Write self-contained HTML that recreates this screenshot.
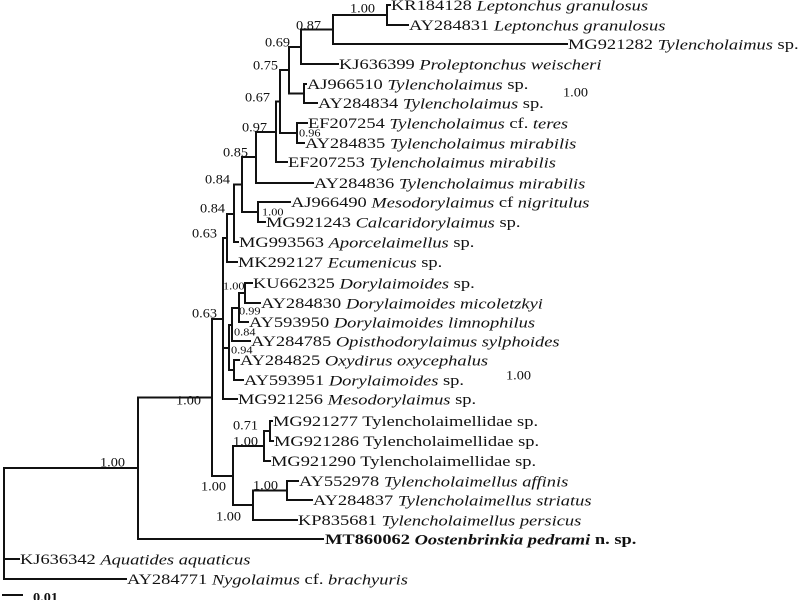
<!DOCTYPE html>
<html><head><meta charset="utf-8"><style>
html,body{margin:0;padding:0;background:#fff;}
svg{display:block;}
text{font-family:"Liberation Serif",serif;fill:#111;transform-box:fill-box;transform-origin:0 50%;}
.l text{font-size:15px;dominant-baseline:central;transform:scaleX(1.23);}
.s text{font-size:13px;dominant-baseline:central;transform:scaleX(1.1);}
.t text{font-size:11px;dominant-baseline:central;transform:scaleX(1.12);}
</style></head><body>
<svg width="800" height="600" viewBox="0 0 800 600" xmlns="http://www.w3.org/2000/svg">
<g stroke="#111" stroke-width="2" fill="none" stroke-linecap="square">
<path d="M387 5V25M387 5H390M387 25H408M333 15H387
M333 15V44M333 44H567M301 29.5H333
M301 29.5V64M301 64H338M289 47H301
M304 84V103M304 84H306M304 103H317M289 93.5H304
M289 47V93.5M280 70H289
M297 123V143M297 123H307M297 143H304M280 133H297
M280 70V133M276 101.5H280
M276 101.5V162M276 162H287M256 132H276
M256 132V183M256 183H313M242 157H256
M258 202V222M258 202H290M258 222H265M242 212H258
M242 157V212M234 184.5H242
M234 184.5V242M234 242H238M227 214H234
M227 214V262M227 262H237M223 238H227
M245 283V303M245 283H252M245 303H260M239 293H245
M239 293V322M239 322H248M232 308H239
M232 308V341M232 341H250M229 325H232
M234 360V380M234 360H239M234 380H243M229 370H234
M229 325V370M223 348H229
M223 238V399M223 399H237M212 319H223
M270 421V441M270 421H272M270 441H273M264 431H270
M264 431V461M264 461H270M233 446H264
M287 481V500M287 481H298M287 500H312M253 490.5H287
M253 490.5V520M253 520H297M233 505H253
M233 446V505M212 476H233
M212 319V476M138 397.5H212
M138 397.5V539M138 539H323M4 468H138
M4 468V579M4 559H19M4 579H126
M3 595H22"/>
</g>
<g class="l">
<text x="391" y="5">KR184128 <tspan font-style="italic">Leptonchus granulosus</tspan></text>
<text x="409" y="25">AY284831 <tspan font-style="italic">Leptonchus granulosus</tspan></text>
<text x="568" y="44">MG921282 <tspan font-style="italic">Tylencholaimus</tspan> sp.</text>
<text x="339" y="64">KJ636399 <tspan font-style="italic">Proleptonchus weischeri</tspan></text>
<text x="307" y="84">AJ966510 <tspan font-style="italic">Tylencholaimus</tspan> sp.</text>
<text x="318" y="103">AY284834 <tspan font-style="italic">Tylencholaimus</tspan> sp.</text>
<text x="308" y="123">EF207254 <tspan font-style="italic">Tylencholaimus</tspan> cf. <tspan font-style="italic">teres</tspan></text>
<text x="305" y="143">AY284835 <tspan font-style="italic">Tylencholaimus mirabilis</tspan></text>
<text x="288" y="162">EF207253 <tspan font-style="italic">Tylencholaimus mirabilis</tspan></text>
<text x="314" y="183">AY284836 <tspan font-style="italic">Tylencholaimus mirabilis</tspan></text>
<text x="291" y="202">AJ966490 <tspan font-style="italic">Mesodorylaimus</tspan> cf <tspan font-style="italic">nigritulus</tspan></text>
<text x="266" y="222">MG921243 <tspan font-style="italic">Calcaridorylaimus</tspan> sp.</text>
<text x="239" y="242">MG993563 <tspan font-style="italic">Aporcelaimellus</tspan> sp.</text>
<text x="238" y="262">MK292127 <tspan font-style="italic">Ecumenicus</tspan> sp.</text>
<text x="253" y="283">KU662325 <tspan font-style="italic">Dorylaimoides</tspan> sp.</text>
<text x="261" y="303">AY284830 <tspan font-style="italic">Dorylaimoides micoletzkyi</tspan></text>
<text x="249" y="322">AY593950 <tspan font-style="italic">Dorylaimoides limnophilus</tspan></text>
<text x="251" y="341">AY284785 <tspan font-style="italic">Opisthodorylaimus sylphoides</tspan></text>
<text x="240" y="360">AY284825 <tspan font-style="italic">Oxydirus oxycephalus</tspan></text>
<text x="244" y="380">AY593951 <tspan font-style="italic">Dorylaimoides</tspan> sp.</text>
<text x="238" y="399">MG921256 <tspan font-style="italic">Mesodorylaimus</tspan> sp.</text>
<text x="273" y="421">MG921277 Tylencholaimellidae sp.</text>
<text x="274" y="441">MG921286 Tylencholaimellidae sp.</text>
<text x="271" y="461">MG921290 Tylencholaimellidae sp.</text>
<text x="299" y="481">AY552978 <tspan font-style="italic">Tylencholaimellus affinis</tspan></text>
<text x="313" y="500">AY284837 <tspan font-style="italic">Tylencholaimellus striatus</tspan></text>
<text x="298" y="520">KP835681 <tspan font-style="italic">Tylencholaimellus persicus</tspan></text>
<text x="325" y="539" font-weight="bold">MT860062 <tspan font-style="italic">Oostenbrinkia pedrami</tspan> n. sp.</text>
<text x="20" y="559">KJ636342 <tspan font-style="italic">Aquatides aquaticus</tspan></text>
<text x="127" y="579">AY284771 <tspan font-style="italic">Nygolaimus</tspan> cf. <tspan font-style="italic">brachyuris</tspan></text>
</g>
<g class="s">
<text x="350" y="8">1.00</text>
<text x="296" y="25">0.87</text>
<text x="265" y="42">0.69</text>
<text x="253" y="65">0.75</text>
<text x="245" y="97">0.67</text>
<text x="242" y="127">0.97</text>
<text x="223" y="152">0.85</text>
<text x="205" y="179">0.84</text>
<text x="200" y="208">0.84</text>
<text x="192" y="233">0.63</text>
<text x="192" y="313">0.63</text>
<text x="176" y="400">1.00</text>
<text x="100" y="462">1.00</text>
<text x="563" y="92">1.00</text>
<text x="506" y="375">1.00</text>
<text x="233" y="425">0.71</text>
<text x="233" y="441">1.00</text>
<text x="201" y="486">1.00</text>
<text x="253" y="485">1.00</text>
<text x="216" y="516">1.00</text>
<text x="33" y="597" font-weight="bold">0.01</text>
</g>
<g class="t">
<text x="299" y="133">0.96</text>
<text x="262" y="212">1.00</text>
<text x="223" y="286">1.00</text>
<text x="239" y="311">0.99</text>
<text x="234" y="332">0.84</text>
<text x="231" y="350">0.94</text>
</g>
</svg>
</body></html>
